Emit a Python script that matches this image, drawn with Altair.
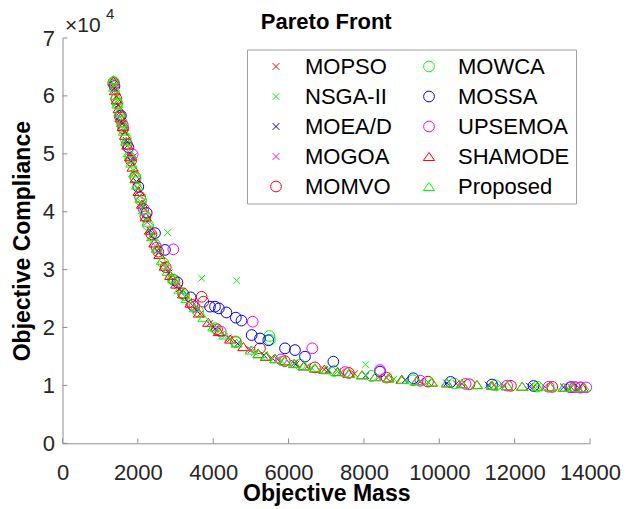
import altair as alt
import pandas as pd

FONT = "Liberation Sans"

SERIES = ["MOPSO", "NSGA-II", "MOEA/D", "MOGOA", "MOMVO",
          "MOWCA", "MOSSA", "UPSEMOA", "SHAMODE", "Proposed"]

XPATH = "M-0.63,-0.63L0.63,0.63M-0.63,0.63L0.63,-0.63"
TRI = "M0,-0.75L1.05,0.75L-1.05,0.75Z"
STYLE = {
    "MOPSO": ("#ff0000", XPATH), "NSGA-II": ("#00ff00", XPATH),
    "MOEA/D": ("#0000ff", XPATH), "MOGOA": ("#ff00ff", XPATH),
    "MOMVO": ("#ff0000", "circle"), "MOWCA": ("#00ff00", "circle"),
    "MOSSA": ("#0000ff", "circle"), "UPSEMOA": ("#ff00ff", "circle"),
    "SHAMODE": ("#ff0000", TRI), "Proposed": ("#00ff00", TRI),
}

mopso_m = [1360, 1420, 1490, 1560, 1640, 1720, 1810, 1900, 2000, 2110, 2230, 2370, 2520, 2690, 2880, 3100,
           3350, 3650, 4000, 4450, 4950, 5550, 6200, 6950, 7750, 8600, 9500, 10450, 11450, 12500, 13500]
mopso_c = [62000, 59900, 57700, 55600, 53700, 51400, 48900, 46600, 43900, 41200, 38700, 35800, 33300, 30900,
           28700, 26700, 24500, 22300, 20000, 18000, 16200, 14800, 13700, 12700, 12000, 11300, 10700, 10300,
           10000, 9800, 9650]

nsga_m = [1370, 1450, 1530, 1620, 1700, 1790, 1880, 1990, 2100, 2220, 2360, 2791, 2950, 3250, 3694, 3900,
          4300, 4623, 5100, 5800, 6600, 7300, 8046, 8800, 9700, 10600, 11600, 12600, 13400]
nsga_c = [61800, 58800, 56300, 54100, 51900, 49500, 47100, 44200, 41600, 38900, 36000, 36400, 28000, 25300,
          28500, 20600, 18500, 28100, 15700, 14300, 13100, 12400, 13600, 11100, 10600, 10250, 9950, 9780, 9650]

moead_m = [1380, 1470, 1580, 1690, 1820, 1960, 2130, 2320, 2550, 2820, 3150, 3550, 4050, 4650, 5350, 6150,
           7050, 8050, 9100, 10200, 11300, 12400, 13300]
moead_c = [61300, 58400, 55200, 52300, 48700, 45200, 40800, 36800, 32900, 29400, 26200, 23000, 19800, 17200,
           15200, 13800, 12600, 11700, 10950, 10400, 10050, 9820, 9700]

mogoa_m = [1390, 1510, 1640, 1780, 1880, 2050, 2250, 2480, 2750, 3050, 3450, 3900, 4400, 5000, 5700, 6500,
           7400, 8400, 9500, 10600, 11700, 12800, 13700]
mogoa_c = [61000, 57100, 53700, 49800, 49500, 42700, 38200, 34000, 30200, 27200, 23800, 20700, 18200, 16100,
           14500, 13300, 12300, 11500, 10750, 10280, 9980, 9760, 9640]

momvo_m = [1350, 1430, 1520, 1610, 1710, 1820, 1930, 2060, 2200, 2360, 2540, 2740, 2960, 3200, 3450, 3694,
           3738, 4100, 4600, 5240, 5900, 6700, 7600, 8600, 9700, 10800, 11900, 13000, 13750]
momvo_c = [62300, 59500, 56500, 54400, 51700, 48800, 46000, 42500, 39200, 36100, 33100, 30400, 28200, 25900,
           23900, 25300, 24460, 19700, 17500, 16400, 14200, 13100, 12150, 11350, 10650, 10200, 9930, 9740, 9630]

mowca_m = [1365, 1460, 1570, 1680, 1800, 1940, 2090, 2270, 2460, 2680, 2930, 3230, 3600, 4050, 4600, 5490,
           5507, 6300, 7200, 8200, 9300, 10400, 11500, 12600, 13600]
mowca_c = [62400, 58700, 55500, 52600, 49300, 45800, 41900, 37700, 34300, 31100, 28300, 25600, 22800, 19900,
           17600, 18530, 17850, 13600, 12500, 11650, 10880, 10330, 10010, 9790, 9650]

mossa_m = [1380, 1550, 1750, 2012, 2234, 2455, 2720, 3050, 3400, 3915, 4047, 4150, 4350, 4600, 4750, 5021,
           5242, 5462, 5905, 6170, 6436, 7188, 8426, 9310, 10300, 11400, 12500, 13500]
mossa_c = [61700, 56600, 51100, 44300, 39800, 36300, 33400, 27800, 25200, 23600, 23600, 23300, 22600, 21700,
           21200, 18700, 18100, 17800, 16400, 16100, 14960, 14100, 12370, 11230, 10600, 10150, 9900, 9700]

upse_m = [1370, 1600, 1862, 2150, 2500, 2941, 3500, 4200, 5048, 5800, 6630, 7500, 8426, 9500, 10700, 11800,
          12900, 13470, 13600, 13750, 13900]
upse_c = [62000, 55000, 49900, 40500, 33800, 33500, 23600, 19300, 21000, 14500, 16400, 12300, 12660, 10800,
          10250, 9960, 9760, 9680, 9720, 9640, 9660]

shamode_m = [1350, 1390, 1440, 1490, 1540, 1600, 1660, 1720, 1790, 1860, 1940, 2020, 2110, 2210, 2320, 2440,
             2570, 2710, 2860, 3020, 3200, 3400, 3620, 3870, 4150, 4450, 4800, 5200, 5650, 6150, 6700, 7300,
             7950, 8650, 9400, 10200, 11000, 11800, 12600, 13300, 13800,
             5400, 5900, 6400, 6950, 7600, 8300, 9000, 9800, 10600, 11400, 12200, 12950, 13550]
shamode_c = [62600, 60900, 59300, 57800, 56200, 54700, 53200, 51500, 49500, 47700, 45700, 43500, 41300, 39100,
             36800, 34600, 32600, 30600, 29000, 27500, 25800, 24200, 22500, 20900, 19300, 18000, 16700, 15500,
             14600, 13800, 13000, 12400, 11850, 11300, 10800, 10420, 10150, 9930, 9790, 9680, 9620,
             15000, 14250, 13350, 12800, 12050, 11500, 11050, 10550, 10300, 10000, 9850, 9750, 9650]

prop_m = [1350, 1370, 1410, 1460, 1510, 1570, 1630, 1690, 1760, 1830, 1900, 1980, 2070, 2160, 2260, 2380,
          2500, 2640, 2790, 2940, 3110, 3300, 3510, 3740, 4000, 4300, 4620, 5000, 5420, 5900, 6420, 7000,
          7620, 8300, 9020, 9800, 10600, 11400, 12200, 12950, 13550, 13850,
          5200, 5650, 6150, 6700, 7300, 7950, 8650, 9400, 10200, 11000, 11800, 12600, 13300]
prop_c = [62800, 61500, 60100, 58600, 57200, 55400, 53900, 52200, 50200, 48400, 46700, 44600, 42300, 40300,
          38200, 35700, 33700, 31600, 29700, 28400, 26600, 25000, 23400, 21700, 20100, 18700, 17300, 16100,
          15100, 14200, 13400, 12700, 12100, 11550, 11000, 10600, 10280, 10030, 9870, 9730, 9660, 9620,
          15450, 14650, 13750, 13050, 12350, 11800, 11250, 10850, 10450, 10120, 9950, 9800, 9690]

DATA = {
    "MOPSO": (mopso_m, mopso_c), "NSGA-II": (nsga_m, nsga_c), "MOEA/D": (moead_m, moead_c),
    "MOGOA": (mogoa_m, mogoa_c), "MOMVO": (momvo_m, momvo_c), "MOWCA": (mowca_m, mowca_c),
    "MOSSA": (mossa_m, mossa_c), "UPSEMOA": (upse_m, upse_c), "SHAMODE": (shamode_m, shamode_c),
    "Proposed": (prop_m, prop_c),
}

XTICKS = [0, 2000, 4000, 6000, 8000, 10000, 12000, 14000]
YTICKS = [0, 10000, 20000, 30000, 40000, 50000, 60000, 70000]

rows = []
for s in SERIES:
    ms, cs = DATA[s]
    for m, c in zip(ms, cs):
        rows.append({"series": s, "mass": m, "comp": c})
df = pd.DataFrame(rows)

AXIS_COL = "#8f8f8f"
TXT_COL = "#262626"

xscale = alt.Scale(domain=[0, 14000], nice=False, zero=False)
yscale = alt.Scale(domain=[0, 70000], nice=False, zero=False)

legend = alt.Legend(
    title=None, orient="none", legendX=184.5, legendY=11.5, columns=2,
    labelFont=FONT, labelFontSize=22, labelColor="#000000", labelLimit=0,
    symbolSize=115, symbolStrokeWidth=1, symbolOffset=12, labelOffset=18,
    strokeColor="#a0a0a0", fillColor="#ffffff", padding=6,
    rowPadding=8, columnPadding=14,
)

pts = alt.Chart(df).mark_point(filled=False, size=115, strokeWidth=1, opacity=1).encode(
    x=alt.X("mass:Q", scale=xscale, axis=alt.Axis(
        values=XTICKS, title="Objective Mass", format="d", labelPadding=19, labelOverlap=False,
        labelFlush=False, titleBaseline="alphabetic", titleY=57)),
    y=alt.Y("comp:Q", scale=yscale, axis=alt.Axis(
        values=YTICKS, title="Objective Compliance", labelExpr="datum.value / 10000",
        labelPadding=8, titlePadding=8, labelOverlap=False, labelFlush=False)),
    color=alt.Color("series:N", scale=alt.Scale(domain=SERIES,
                    range=[STYLE[s][0] for s in SERIES]), legend=legend),
    shape=alt.Shape("series:N", scale=alt.Scale(domain=SERIES,
                    range=[STYLE[s][1] for s in SERIES]), legend=legend),
)

TICK_Y = 860   # inward tick length in data units (y)
TICK_X = 130   # inward tick length in data units (x)
xt = alt.Chart(pd.DataFrame({"v": XTICKS})).mark_rule(color=AXIS_COL, strokeWidth=1).encode(
    x=alt.X("v:Q", scale=xscale), y=alt.datum(0), y2=alt.datum(TICK_Y))
yt = alt.Chart(pd.DataFrame({"v": YTICKS})).mark_rule(color=AXIS_COL, strokeWidth=1).encode(
    y=alt.Y("v:Q", scale=yscale), x=alt.datum(0), x2=alt.datum(TICK_X))

exp_df = pd.DataFrame({"t": ["×10"], "x": [0], "y": [70000]})
exp1 = alt.Chart(exp_df).mark_text(font=FONT, fontSize=21, align="left", baseline="alphabetic",
                                   color=TXT_COL, dx=2.5, dy=-6.3).encode(
    x=alt.X("x:Q", scale=xscale), y=alt.Y("y:Q", scale=yscale), text="t:N")
exp_df2 = pd.DataFrame({"t": ["4"], "x": [0], "y": [70000]})
exp2 = alt.Chart(exp_df2).mark_text(font=FONT, fontSize=15, align="left", baseline="alphabetic",
                                    color=TXT_COL, dx=43.5, dy=-19.5).encode(
    x=alt.X("x:Q", scale=xscale), y=alt.Y("y:Q", scale=yscale), text="t:N")

chart = alt.layer(xt, yt, pts, exp1, exp2).properties(
    width=527.5, height=405.3,
    autosize=alt.AutoSizeParams(type="none"),
    padding={"left": 62.5, "top": 38, "right": 46, "bottom": 65.7},
    title=alt.TitleParams("Pareto Front", font=FONT, fontSize=22, fontWeight="bold",
                          color="#000000", anchor="middle", frame="group", offset=4, dy=31.5),
).configure(background="white").configure_view(stroke=None).configure_axis(
    domainColor=AXIS_COL, domainWidth=1, ticks=False, grid=False,
    labelFont=FONT, labelFontSize=22, labelColor=TXT_COL,
    titleFont=FONT, titleFontSize=23, titleFontWeight="bold", titleColor="#000000",
)

chart.save("out.html", embed_options={"renderer": "svg", "actions": False})
